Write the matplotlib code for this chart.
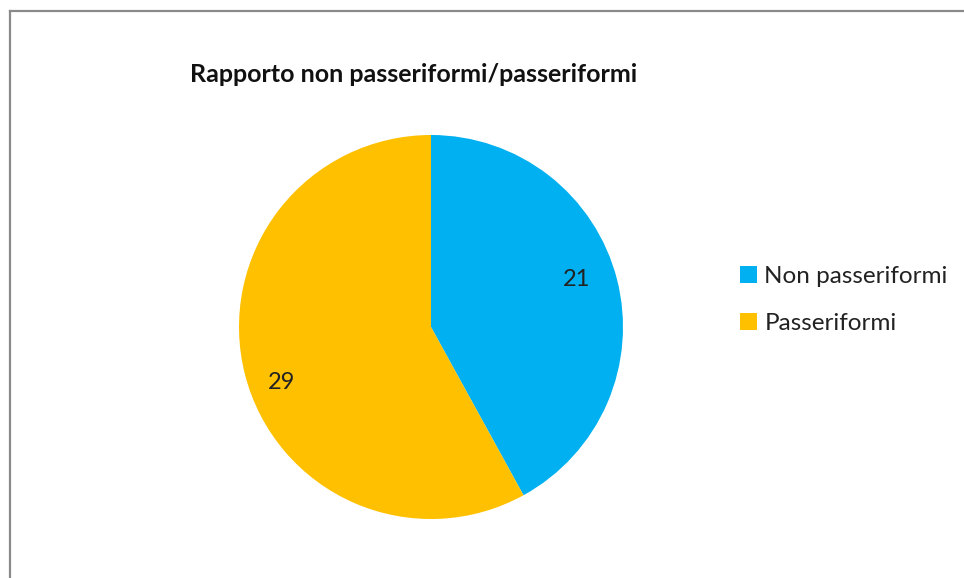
import matplotlib
matplotlib.use("Agg")
import matplotlib.pyplot as plt
from matplotlib.lines import Line2D

labels = ["Non passeriformi", "Passeriformi"]
values = [21, 29]
colors = ["#00B0F0", "#FFC000"]
title = "Rapporto non passeriformi/passeriformi"

plt.rcParams['font.family'] = ['Lato', 'DejaVu Sans']

W, H = 964, 578
fig = plt.figure(figsize=(W / 100, H / 100), dpi=100)
fig.patch.set_facecolor("white")

# chart-area frame (left and top edges only are in view)
fig.add_artist(Line2D([9.5 / W, 9.5 / W], [0, 1 - 11 / H], transform=fig.transFigure,
                      color="#8a8a8a", lw=1.6))
fig.add_artist(Line2D([9.5 / W, 1], [1 - 11 / H, 1 - 11 / H], transform=fig.transFigure,
                      color="#8a8a8a", lw=1.6))

cx, cy, r = 431, 327, 192
ax = fig.add_axes([(cx - r) / W, (H - cy - r) / H, 2 * r / W, 2 * r / H])
wedges, texts, autotexts = ax.pie(values, colors=colors, startangle=90, counterclock=False,
                                  autopct=lambda p: f"{p * sum(values) / 100:.0f}",
                                  pctdistance=0.8, textprops={"fontsize": 17, "color": "#222222"})
# nudge the value labels a bit
autotexts[0].set_position((0.76, 0.245))
autotexts[1].set_position((-0.78, -0.29))
ax.set_aspect("equal")
ax.set_xlim(-1, 1)
ax.set_ylim(-1, 1)

fig.text(190 / W, 1 - 75 / H, title, fontsize=18, fontweight="bold", color="#111111",
         ha="left", va="center")

fig.legend(wedges, labels, loc="center left", bbox_to_anchor=(740 / W, 1 - 300 / H),
           frameon=False, fontsize=17.5, handlelength=0.7, handleheight=0.7,
           handletextpad=0.3, labelspacing=1.05, borderpad=0, borderaxespad=0,
           labelcolor="#222222")

fig.savefig("out.png", dpi=100, facecolor="white")
